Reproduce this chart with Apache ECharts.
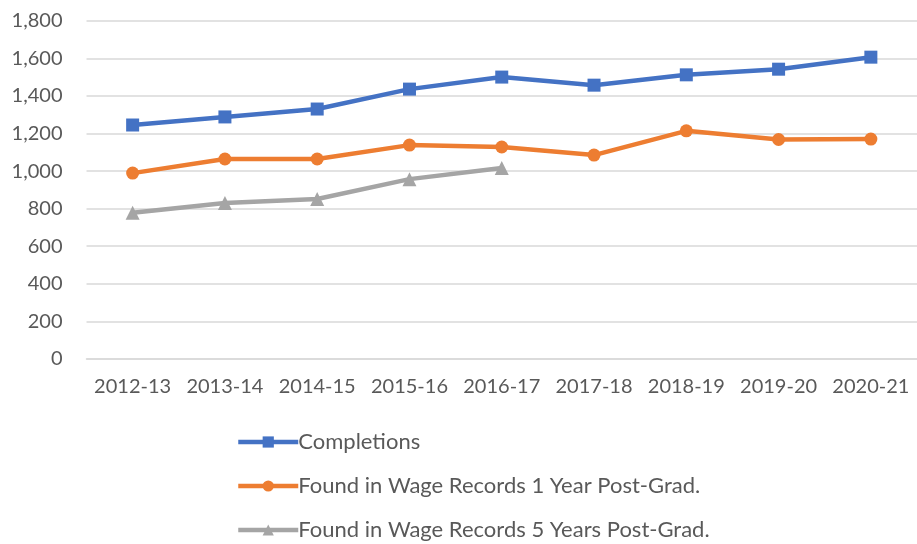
<!DOCTYPE html>
<html>
<head>
<meta charset="utf-8">
<script src="https://cdn.jsdelivr.net/npm/echarts@6/dist/echarts.min.js"></script>
<style>
  html, body { margin: 0; padding: 0; background: #fff; }
  #chart { width: 917px; height: 544px; }
</style>
</head>
<body>
<div id="chart"></div>
<script>
// data
let years = ["2012-13", "2013-14", "2014-15", "2015-16", "2016-17", "2017-18", "2018-19", "2019-20", "2020-21"];
let completions = [1245, 1288, 1330, 1436, 1500, 1457, 1512, 1542, 1606];
let wage_1yr = [989, 1064, 1064, 1138, 1128, 1085, 1214, 1168, 1170];
let wage_5yr = [778, 830, 851, 957, 1016, null, null, null, null];
let y_ticks = { min: 0, max: 1800, interval: 200 };

const text_color = "#595959";
const font = "Lato";

let mk_series = function (name, data, color, symbol, size) {
    return {
        name: name,
        type: "line",
        data: data,
        symbol: symbol,
        symbolSize: size,
        connectNulls: false,
        lineStyle: { color: color, width: 4.5 },
        itemStyle: { color: color },
        emphasis: { disabled: true }
    };
};

let chart = echarts.init(document.getElementById("chart"));
chart.setOption({
    animation: false,
    textStyle: { fontFamily: font },
    grid: { left: 86.5, right: -6.5, top: 20.7, bottom: 185 },
    xAxis: {
        type: "category",
        data: years,
        boundaryGap: true,
        axisLine: { lineStyle: { color: "#D9D9D9", width: 1.5 } },
        axisTick: { show: false },
        axisLabel: { color: text_color, fontSize: 20, margin: 18, fontFamily: font, interval: 0 }
    },
    yAxis: {
        type: "value",
        min: y_ticks.min,
        max: y_ticks.max,
        interval: y_ticks.interval,
        axisLine: { show: false },
        axisTick: { show: false },
        splitLine: { lineStyle: { color: "#D9D9D9", width: 1.5 } },
        axisLabel: {
            color: text_color, fontSize: 20, margin: 24, fontFamily: font,
            formatter: v => v.toLocaleString("en-US")
        }
    },
    legend: {
        orient: "vertical",
        left: 236,
        top: 431,
        height: 200,
        padding: 0,
        itemGap: 22,
        itemWidth: 60,
        itemHeight: 14,
        lineStyle: { width: 4.5 },
        textStyle: { color: text_color, fontSize: 22, lineHeight: 20, fontFamily: font, padding: [0, 0, 0, -5] },
        data: [
            "Completions",
            "Found in Wage Records 1 Year Post-Grad.",
            "Found in Wage Records 5 Years Post-Grad."
        ]
    },
    series: [
        mk_series("Completions", completions, "#4472C4", "rect", 13),
        mk_series("Found in Wage Records 1 Year Post-Grad.", wage_1yr, "#ED7D31", "circle", 13),
        mk_series("Found in Wage Records 5 Years Post-Grad.", wage_5yr, "#A5A5A5", "triangle", 14)
    ]
});
</script>
</body>
</html>
